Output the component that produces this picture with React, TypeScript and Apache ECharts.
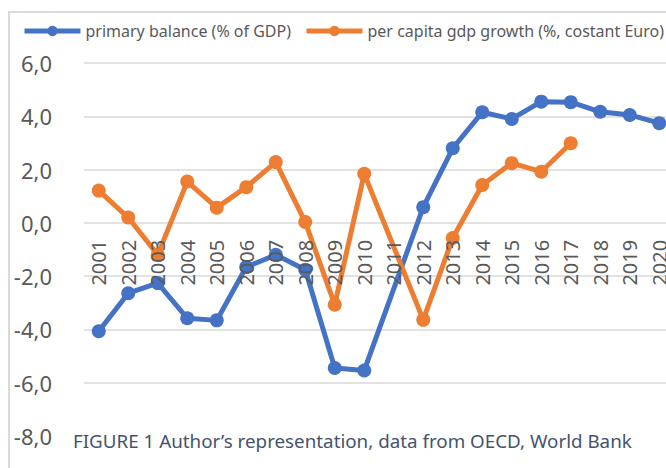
import React, { useEffect, useRef } from "react";
import * as echarts from "echarts";

const years = ["2001","2002","2003","2004","2005","2006","2007","2008","2009","2010","2011","2012","2013","2014","2015","2016","2017","2018","2019","2020"];
const primaryBalance: (number | null)[] = [-4.07, -2.64, -2.26, -3.58, -3.66, -1.66, -1.2, -1.76, -5.45, -5.54, null, 0.59, 2.8, 4.15, 3.9, 4.55, 4.53, 4.17, 4.05, 3.74];
const gdpGrowth: (number | null)[] = [1.21, 0.2, -1.2, 1.55, 0.57, 1.34, 2.28, 0.03, -3.07, 1.84, null, -3.64, -0.57, 1.42, 2.24, 1.92, 2.99, null, null, null];
const seriesNames = ["primary balance (% of GDP)", "per capita gdp growth (%, costant Euro)"];
const caption = "FIGURE 1 Author\u2019s representation, data from OECD, World Bank";

const FONT = "'Noto Sans', 'Open Sans', sans-serif";

const GRID_TOP = 63;
const GRID_HEIGHT = 373;
const Y_MIN = -8;
const Y_MAX = 6;
// distance (px) from the bottom of the plot to the zero line, so labels sit under 0
const zeroOffset = (GRID_HEIGHT * (0 - Y_MIN)) / (Y_MAX - Y_MIN);

const legendBase = {
  top: 23,
  padding: 0,
  itemWidth: 56,
  itemHeight: 13,
  itemGap: 16,
  textStyle: { fontSize: 16, color: "#595959", fontFamily: FONT },
  lineStyle: { width: 5 },
};

export default function App() {
  const ref = useRef<HTMLDivElement>(null);
  useEffect(() => {
    if (!ref.current) return;
    const chart = echarts.init(ref.current, undefined, { renderer: "svg" });
    chart.setOption({
      animation: false,
      backgroundColor: "#ffffff",
      textStyle: { fontFamily: FONT },
      legend: [
        { ...legendBase, left: 22, data: [seriesNames[0]] },
        { ...legendBase, left: 304, data: [seriesNames[1]] },
      ],
      grid: { left: 84, top: GRID_TOP, width: 590, height: GRID_HEIGHT, outerBoundsMode: "none", containLabel: false },
      xAxis: {
        type: "category",
        data: years,
        z: 10,
        axisLine: { show: false, onZero: false },
        axisTick: { show: false },
        axisLabel: {
          interval: 0,
          rotate: 90,
          margin: 17 - zeroOffset,
          fontSize: 20,
          color: "#595959",
          fontFamily: FONT,
        },
      },
      yAxis: {
        type: "value",
        min: Y_MIN,
        max: Y_MAX,
        interval: 2,
        axisLine: { show: false },
        axisTick: { show: false },
        splitLine: { lineStyle: { color: "#d9d9d9", width: 1.5 } },
        axisLabel: {
          margin: 32,
          fontSize: 22,
          color: "#595959",
          fontFamily: FONT,
          formatter: (v: number) => v.toFixed(1).replace(".", ","),
        },
      },
      series: [
        {
          name: seriesNames[0],
          type: "line",
          data: primaryBalance,
          connectNulls: true,
          symbol: "circle",
          symbolSize: 14,
          color: "#4472C4",
          lineStyle: { width: 5, color: "#4472C4" },
          itemStyle: { color: "#4472C4" },
        },
        {
          name: seriesNames[1],
          type: "line",
          data: gdpGrowth,
          connectNulls: true,
          symbol: "circle",
          symbolSize: 14,
          color: "#ED7D31",
          lineStyle: { width: 5, color: "#ED7D31" },
          itemStyle: { color: "#ED7D31" },
        },
      ],
      graphic: [
        {
          type: "rect",
          z: 100,
          shape: { x: 9, y: 12, width: 700, height: 500 },
          style: { fill: "none", stroke: "#d9d9d9", lineWidth: 2 },
          silent: true,
        },
        {
          type: "rect",
          z: 100,
          shape: { x: 64, y: 427, width: 610, height: 26 },
          style: { fill: "#ffffff" },
          silent: true,
        },
        {
          type: "text",
          z: 101,
          x: 73,
          y: 441,
          style: {
            text: caption,
            fill: "#44546A",
            fontSize: 18.8,
            fontFamily: FONT,
            verticalAlign: "middle",
          },
          silent: true,
        },
      ],
    });
    return () => chart.dispose();
  }, []);
  return (
    <div
      ref={ref}
      style={{ position: "fixed", left: 0, top: 0, width: 666, height: 468, overflow: "hidden" }}
    />
  );
}
